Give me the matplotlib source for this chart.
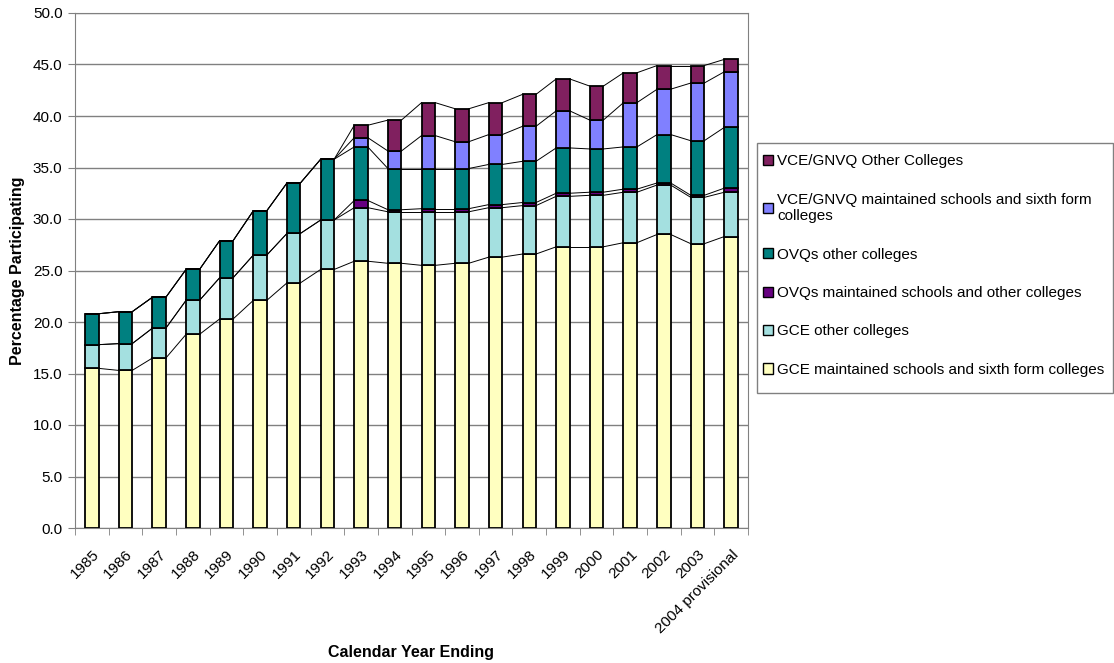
import matplotlib.pyplot as plt
import matplotlib.patches as mpatches
import numpy as np

plt.rcParams["font.family"] = ["Liberation Sans", "DejaVu Sans"]

years = ["1985", "1986", "1987", "1988", "1989", "1990", "1991", "1992", "1993", "1994",
         "1995", "1996", "1997", "1998", "1999", "2000", "2001", "2002", "2003",
         "2004 provisional"]

gce_maintained = [15.5, 15.3, 16.5, 18.8, 20.3, 22.1, 23.8, 25.1, 25.9, 25.7,
                  25.5, 25.7, 26.3, 26.6, 27.3, 27.3, 27.7, 28.5, 27.6, 28.3]
gce_other = [2.3, 2.6, 2.9, 3.3, 4.0, 4.4, 4.8, 4.8, 5.2, 5.0,
             5.2, 5.0, 4.8, 4.7, 4.9, 5.0, 4.9, 4.8, 4.5, 4.3]
ovq_maintained = [0, 0, 0, 0, 0, 0, 0, 0, 0.7, 0.2,
                  0.3, 0.3, 0.3, 0.3, 0.3, 0.3, 0.3, 0.2, 0.2, 0.4]
ovq_other = [3.0, 3.1, 3.0, 3.0, 3.6, 4.3, 4.9, 5.9, 5.2, 4.0,
             3.9, 3.9, 3.9, 4.0, 4.4, 4.2, 4.1, 4.7, 5.3, 5.9]
vce_maintained = [0, 0, 0, 0, 0, 0, 0, 0, 0.9, 1.7,
                  3.2, 2.6, 2.9, 3.4, 3.6, 2.8, 4.3, 4.4, 5.6, 5.4]
vce_other = [0, 0, 0, 0, 0, 0, 0, 0, 1.2, 3.0,
             3.2, 3.2, 3.1, 3.1, 3.1, 3.3, 2.9, 2.3, 1.7, 1.2]

series = [
    ("GCE maintained schools and sixth form colleges", gce_maintained, "#FFFFC0"),
    ("GCE other colleges", gce_other, "#A4E0E0"),
    ("OVQs maintained schools and other colleges", ovq_maintained, "#660080"),
    ("OVQs other colleges", ovq_other, "#008080"),
    ("VCE/GNVQ maintained schools and sixth form\ncolleges", vce_maintained, "#8080FF"),
    ("VCE/GNVQ Other Colleges", vce_other, "#80205F"),
]

fig = plt.figure(figsize=(11.14, 6.63), dpi=100)
ax = fig.add_axes([75 / 1114, 1 - 528 / 663, 673 / 1114, 515 / 663])

x = np.arange(len(years))
w = 0.4
bottom = np.zeros(len(years))
handles = []
for label, vals, col in series:
    vals = np.array(vals)
    ax.bar(x, vals, w, bottom=bottom, color=col, edgecolor="black", linewidth=1.3, zorder=3)
    top = bottom + vals
    # series lines between bars
    for i in range(len(x) - 1):
        ax.plot([x[i] + w / 2, x[i + 1] - w / 2], [top[i], top[i + 1]],
                color="black", linewidth=0.7, zorder=2)
    bottom = top
    handles.append(mpatches.Patch(facecolor=col, edgecolor="black", linewidth=1.0, label=label))

ax.set_xlim(-0.5, len(years) - 0.5)
ax.set_ylim(0, 50)
ax.set_yticks(np.arange(0, 50.1, 5))
ax.set_yticklabels([f"{v:.1f}" for v in np.arange(0, 50.1, 5)], fontsize=11)
ax.yaxis.grid(True, color="#808080", linewidth=1.0, zorder=0)
ax.set_axisbelow(True)

ax.set_xticks(x)
ax.set_xticklabels(years, rotation=45, ha="right", rotation_mode="anchor", fontsize=11)
ax.tick_params(axis="x", length=0, pad=14)
ax.set_xticks(np.arange(-0.5, len(years), 1), minor=True)
ax.tick_params(axis="x", which="minor", length=5, direction="out", color="#808080")
ax.tick_params(axis="y", length=5, direction="out", color="#808080", pad=4)

for s in ax.spines.values():
    s.set_color("#808080")

ax.set_ylabel("Percentage Participating", fontsize=11.5, fontweight="bold", labelpad=6)
ax.set_xlabel("Calendar Year Ending", fontsize=11.5, fontweight="bold", labelpad=7)

# legend box drawn separately so its height matches the Excel one
frame = mpatches.Rectangle((757 / 1114, 1 - 393 / 663), 356 / 1114, 250 / 663,
                           transform=fig.transFigure, fill=False,
                           edgecolor="#808080", linewidth=1.0)
fig.patches.append(frame)
leg = fig.legend(handles=handles[::-1], loc="upper left",
                 bbox_to_anchor=(752 / 1114, 1 - 143 / 663), fontsize=11,
                 frameon=False, handlelength=0.65, handleheight=0.65,
                 handletextpad=0.25, labelspacing=1.6, borderaxespad=0, borderpad=0.75)

fig.savefig("out.png", dpi=100)
